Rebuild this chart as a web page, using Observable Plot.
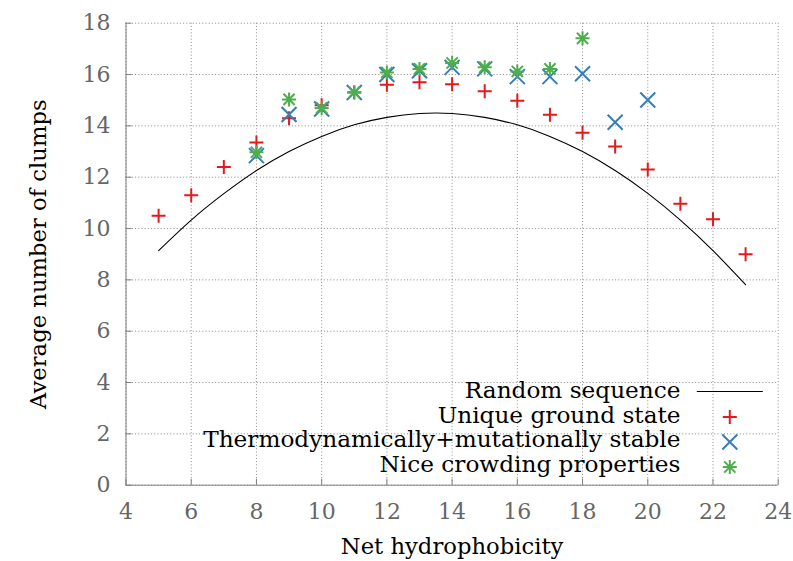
<!DOCTYPE html>
<html>
<head>
<meta charset="utf-8">
<script src="https://cdn.jsdelivr.net/npm/d3@7"></script>
<script src="https://cdn.jsdelivr.net/npm/@observablehq/plot@0.6"></script>
<style>
  html, body { margin: 0; padding: 0; background: #fff; }
  #chart svg { display: block; }
</style>
</head>
<body>
<div id="chart"></div>
<script>
// ---- data ----
const xTicks = [4, 6, 8, 10, 12, 14, 16, 18, 20, 22, 24];
const yTicks = [0, 2, 4, 6, 8, 10, 12, 14, 16, 18];

const randomX = [5, 6, 7, 8, 9, 10, 11, 12, 13, 14, 15, 16, 17, 18, 19, 20, 21, 22, 23];
const randomY = [9.14, 10.33, 11.36, 12.26, 13.0, 13.59, 14.04, 14.33, 14.48, 14.48, 14.33, 14.04, 13.59, 13.0, 12.26, 11.37, 10.33, 9.14, 7.81];

const uniqueX = [5, 6, 7, 8, 9, 10, 11, 12, 13, 14, 15, 16, 17, 18, 19, 20, 21, 22, 23];
const uniqueY = [10.5, 11.3, 12.4, 13.35, 14.3, 14.8, 15.3, 15.6, 15.7, 15.62, 15.35, 14.98, 14.43, 13.73, 13.2, 12.3, 10.97, 10.36, 9.0];

const stableX = [8, 9, 10, 11, 12, 13, 14, 15, 16, 17, 18, 19, 20];
const stableY = [12.84, 14.44, 14.66, 15.3, 16.0, 16.15, 16.28, 16.22, 15.92, 15.92, 16.03, 14.14, 15.01];

const crowdX = [8, 9, 10, 11, 12, 13, 14, 15, 16, 17, 18];
const crowdY = [12.97, 15.03, 14.70, 15.31, 16.08, 16.22, 16.45, 16.28, 16.12, 16.22, 17.41];

const seriesNames = ["Random sequence", "Unique ground state", "Thermodynamically+mutationally stable", "Nice crowding properties"];
const xLabel = "Net hydrophobicity";
const yLabel = "Average number of clumps";

// ---- build tables ----
const zip = (xs, ys) => xs.map((x, i) => ({x, y: ys[i]}));
const randomData = zip(randomX, randomY);
const uniqueData = zip(uniqueX, uniqueY);
const stableData = zip(stableX, stableY);
const crowdData = zip(crowdX, crowdY);

// ---- styles ----
const FONT = "DejaVu Serif";
const RED = "#e41a1c", BLUE = "#377eb8", GREEN = "#4daf4a";
const W = 793, H = 561;
const mL = 125.5, mR = 15.3, mT = 22.7, mB = 76.3;
const plotW = W - mL - mR, plotH = H - mT - mB;

const plusSym = {draw(c) { const h = 7; c.moveTo(-h, 0); c.lineTo(h, 0); c.moveTo(0, -h); c.lineTo(0, h); }};
const timesSym = {draw(c) { const h = 7.5; c.moveTo(-h, -h); c.lineTo(h, h); c.moveTo(-h, h); c.lineTo(h, -h); }};
const starSym = {draw(c) { const h = 7, d = 5.6; c.moveTo(-h, 0); c.lineTo(h, 0); c.moveTo(0, -h); c.lineTo(0, h); c.moveTo(-d, -d); c.lineTo(d, d); c.moveTo(-d, d); c.lineTo(d, -d); }};
const lineSym = {draw(c) { c.moveTo(-33, 0); c.lineTo(33, 0); }};

const legendRight = -97.7;       // text end offset from frame right
const legendSymDx = -48.4;       // symbol centre offset from frame right
const rowBase = [-87.4, -62.6, -37.8, -13.0]; // baselines from frame bottom
const rowMid = [-93.7, -68.2, -43.2, -18.2];
const legendSyms = [lineSym, plusSym, timesSym, starSym];
const legendColors = ["black", RED, BLUE, GREEN];
const labelSize = 22.7;
const legendSize = 23.2;
const tickSize = 22;

const marks = [
  Plot.gridX(xTicks, {stroke: "#8a8a8a", strokeOpacity: 1, strokeDasharray: "1,2.2"}),
  Plot.gridY(yTicks, {stroke: "#8a8a8a", strokeOpacity: 1, strokeDasharray: "1,2.2"}),
  Plot.tickX(xTicks, {x: d => d, stroke: "#808080", insetTop: plotH - 6}),
  Plot.tickY(yTicks, {y: d => d, stroke: "#808080", insetRight: plotW - 6}),
  Plot.ruleX([4], {stroke: "#808080"}),
  Plot.ruleY([0], {stroke: "#808080"}),
  Plot.axisX({ticks: xTicks, tickSize: 0, tickPadding: 17.8, fontSize: tickSize, color: "#666", label: null, fontVariant: "normal"}),
  Plot.axisY({ticks: yTicks, tickSize: 0, tickPadding: 15.5, fontSize: tickSize, color: "#666", label: null, fontVariant: "normal"}),
  Plot.line(randomData, {x: "x", y: "y", curve: "natural", stroke: "black", strokeWidth: 1.1}),
  Plot.dot(uniqueData, {x: "x", y: "y", symbol: plusSym, stroke: RED, strokeWidth: 2, fill: "none"}),
  Plot.dot(stableData, {x: "x", y: "y", symbol: timesSym, stroke: BLUE, strokeWidth: 2, fill: "none"}),
  Plot.dot(crowdData, {x: "x", y: "y", symbol: starSym, stroke: GREEN, strokeWidth: 2, fill: "none"}),
  Plot.text([xLabel], {frameAnchor: "bottom", dy: 68.6, lineAnchor: "bottom", fontSize: labelSize, fill: "black"}),
  Plot.text([yLabel], {frameAnchor: "left", dx: -87.7, rotate: -90, lineAnchor: "middle", textAnchor: "middle", fontSize: labelSize, fill: "black"}),
  ...seriesNames.map((name, i) => Plot.text([name], {frameAnchor: "bottom-right", dx: legendRight, dy: rowBase[i], lineAnchor: "bottom", textAnchor: "end", fontSize: legendSize, fill: "black"})),
  ...seriesNames.map((name, i) => Plot.dot([name], {frameAnchor: "bottom-right", dx: legendSymDx, dy: rowMid[i], symbol: legendSyms[i], stroke: legendColors[i], strokeWidth: i === 0 ? 1.1 : 2, fill: "none"}))
];

const chart = Plot.plot({
  width: W, height: H,
  marginLeft: mL, marginRight: mR, marginTop: mT, marginBottom: mB,
  x: {domain: [4, 24]},
  y: {domain: [0, 18]},
  style: {fontFamily: FONT, background: "white", overflow: "visible"},
  marks
});

d3.select(chart).attr("font-family", FONT);
d3.select(chart).selectAll("text").attr("font-family", FONT);
document.getElementById("chart").appendChild(chart);
</script>
</body>
</html>
